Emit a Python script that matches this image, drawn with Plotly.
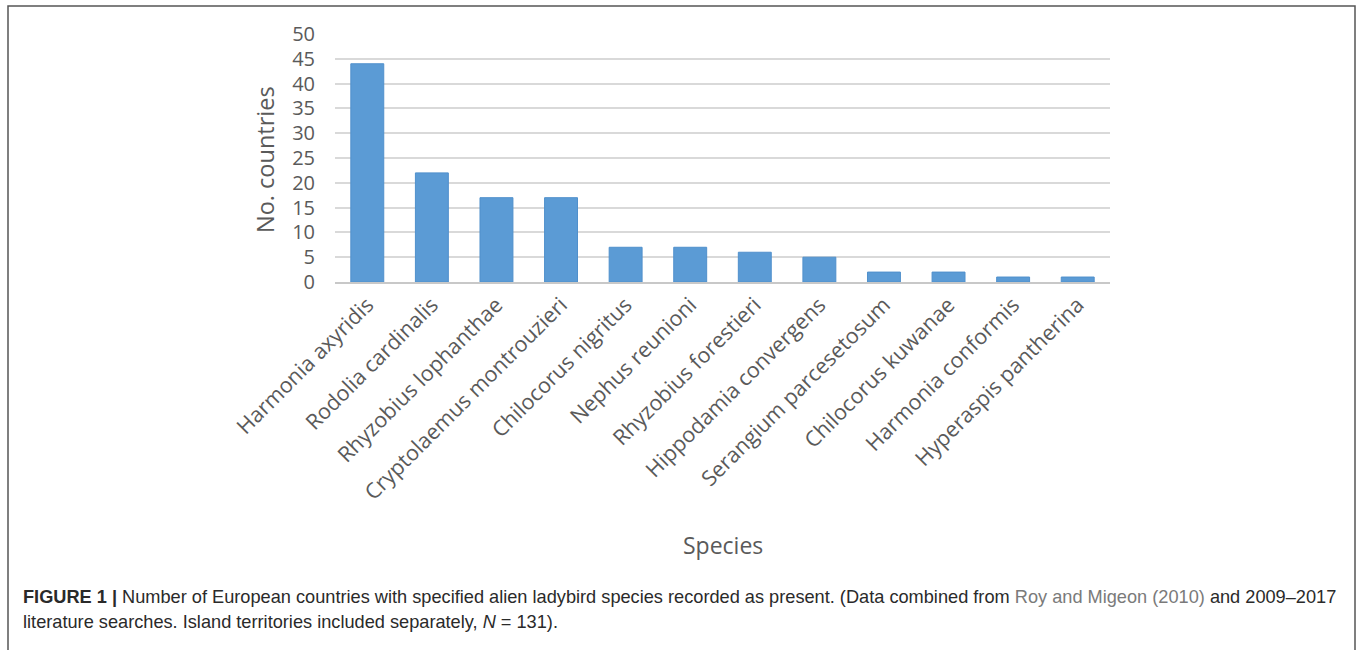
import plotly.graph_objects as go

species = [
    "Harmonia axyridis", "Rodolia cardinalis", "Rhyzobius lophanthae",
    "Cryptolaemus montrouzieri", "Chilocorus nigritus", "Nephus reunioni",
    "Rhyzobius forestieri", "Hippodamia convergens", "Serangium parcesetosum",
    "Chilocorus kuwanae", "Harmonia conformis", "Hyperaspis pantherina",
]
countries = [44, 22, 17, 17, 7, 7, 6, 5, 2, 2, 1, 1]
y_ticks = [0, 5, 10, 15, 20, 25, 30, 35, 40, 45, 50]

W, H = 1360, 650
ML, MR, MT, MB = 335, 250, 34, 368
PW, PH = W - ML - MR, H - MT - MB


def px(x):
    return (x - ML) / PW


def py(y):
    return 1 - (y - MT) / PH


fig = go.Figure(
    go.Bar(
        x=species,
        y=countries,
        marker=dict(color="#5b9bd5", line=dict(color="#5090cc", width=1)),
        width=0.51,
    )
)

fig.update_layout(
    width=W,
    height=H,
    margin=dict(l=ML, r=MR, t=MT, b=MB, autoexpand=False),
    paper_bgcolor="white",
    plot_bgcolor="white",
    showlegend=False,
    xaxis=dict(
        tickangle=-45,
        tickfont=dict(family="Open Sans, sans-serif", size=21.5, color="#5a5a5a"),
        showgrid=False,
        showline=True,
        linecolor="#c8c8c8",
        linewidth=1.5,
        ticks="",
    ),
    yaxis=dict(
        range=[0, 50],
        tickvals=y_ticks,
        tickfont=dict(family="Open Sans, sans-serif", size=20, color="#5a5a5a"),
        showgrid=True,
        gridcolor="#d9d9d9",
        gridwidth=1.5,
        zeroline=False,
        showline=False,
        ticks="",
        ticklabelstandoff=19,
    ),
)

# outer frame around the figure panel
fig.add_shape(
    type="rect", xref="paper", yref="paper",
    x0=px(8), x1=px(1355), y0=py(664), y1=py(6),
    line=dict(color="#555555", width=1.5), fillcolor="rgba(0,0,0,0)",
    layer="below",
)

fig.add_annotation(
    text="No. countries", xref="paper", yref="paper",
    x=px(265), y=py(160), textangle=-90, showarrow=False,
    xanchor="center", yanchor="middle",
    font=dict(family="Open Sans, sans-serif", size=23.5, color="#5a5a5a"),
)
fig.add_annotation(
    text="Species", xref="paper", yref="paper",
    x=px(723), y=py(545), showarrow=False,
    xanchor="center", yanchor="middle",
    font=dict(family="Open Sans, sans-serif", size=23, color="#5a5a5a"),
)

cap_font = dict(family="Liberation Sans, Arial, sans-serif", size=18.2, color="#2a2a2a")
fig.add_annotation(
    text=("<b>FIGURE 1 |</b> Number of European countries with specified alien ladybird "
          "species recorded as present. (Data combined from "
          "<span style='color:#7a7a7a'>Roy and Migeon (2010)</span> and 2009–2017"),
    xref="paper", yref="paper", x=px(21), y=py(597),
    xanchor="left", yanchor="middle", showarrow=False, font=cap_font,
)
fig.add_annotation(
    text="literature searches. Island territories included separately, <i>N</i> = 131).",
    xref="paper", yref="paper", x=px(21), y=py(622),
    xanchor="left", yanchor="middle", showarrow=False, font=cap_font,
)

fig.write_html("out.html")
